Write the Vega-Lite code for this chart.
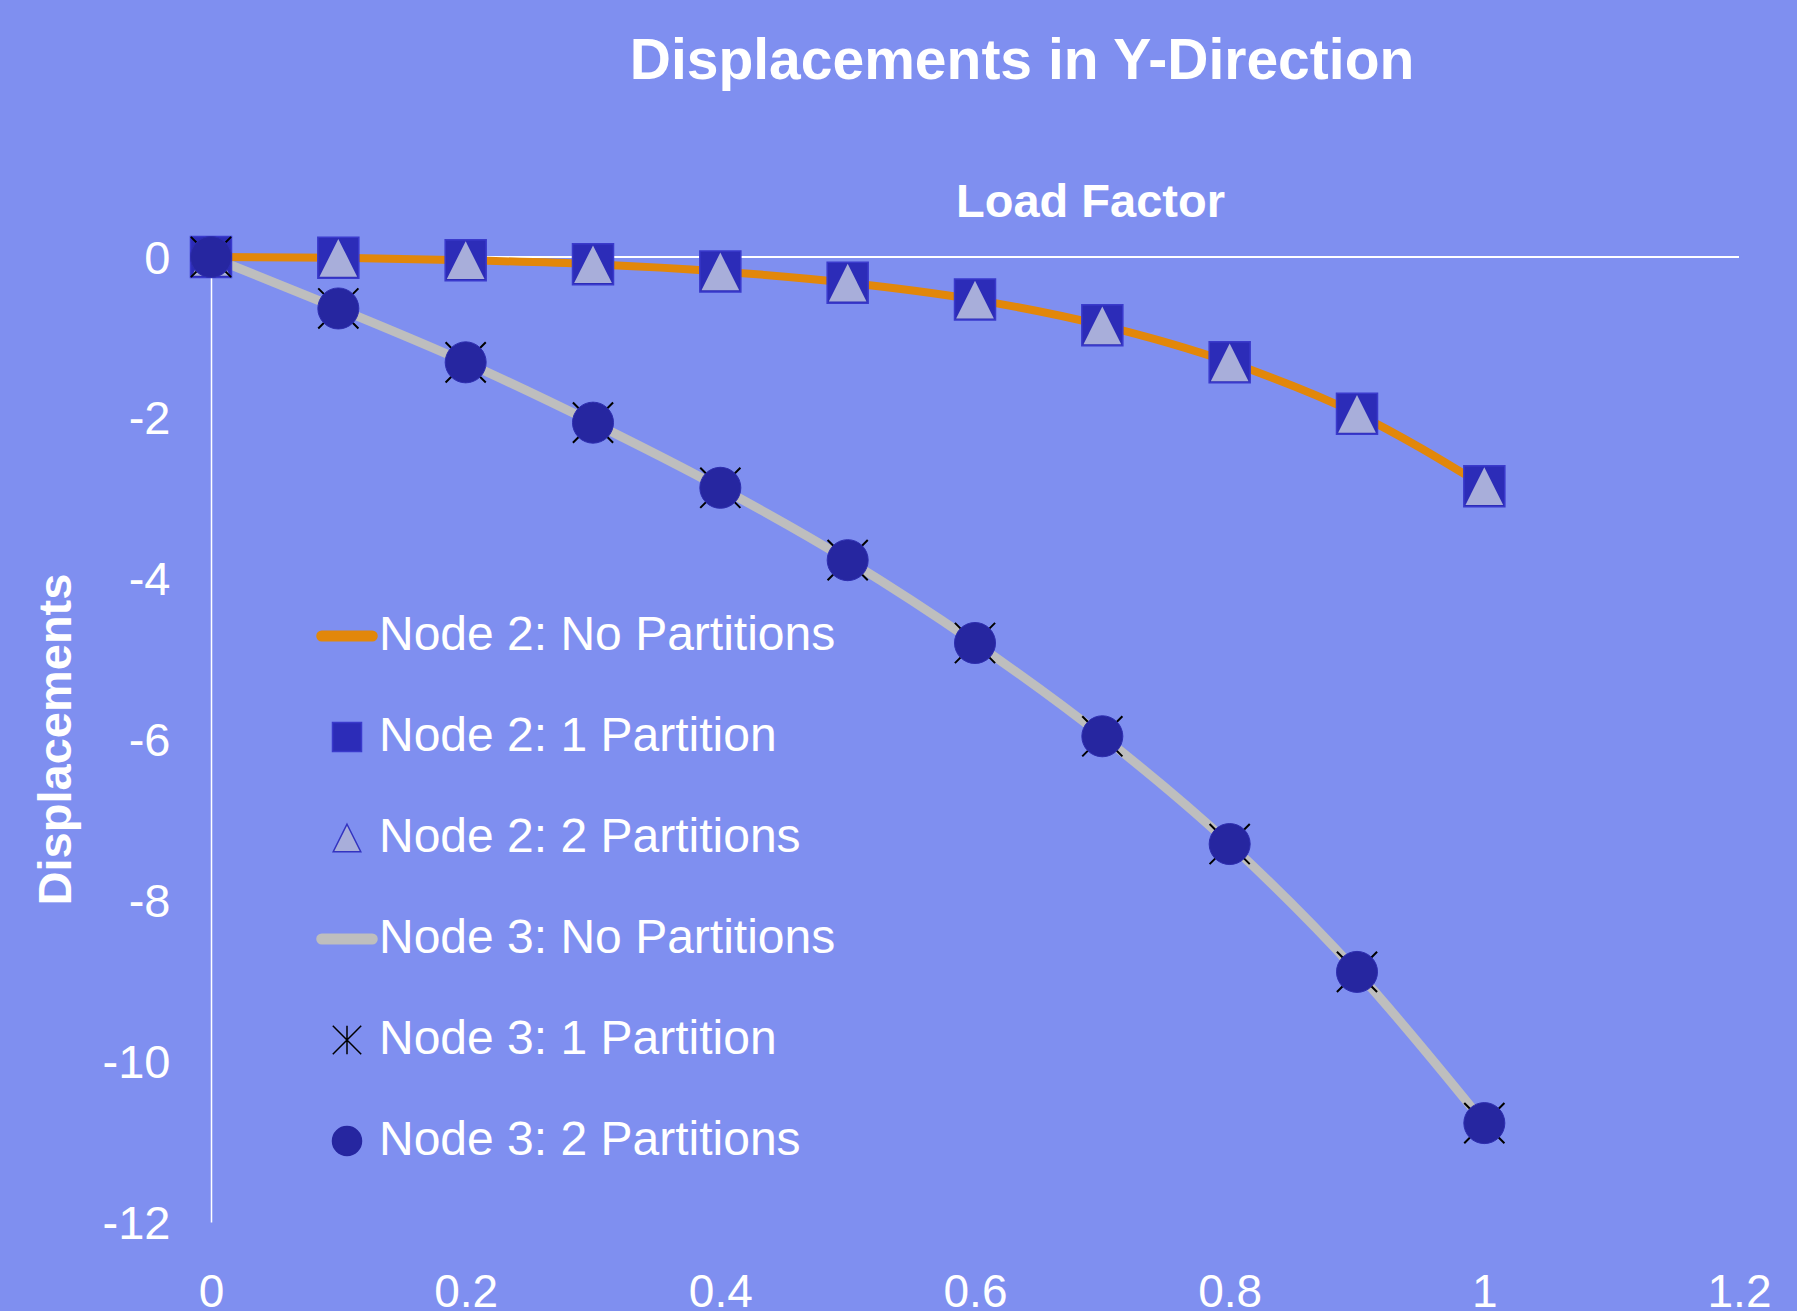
{
  "$schema": "https://vega.github.io/schema/vega-lite/v6.json",
  "autosize": "none",
  "width": 1528,
  "height": 965,
  "padding": {"left": 211, "top": 257, "right": 58, "bottom": 89},
  "background": "#7F8FF0",
  "config": {
    "font": "Liberation Sans",
    "view": {"stroke": null},
    "title": {"fontSize": 57, "fontWeight": "bold", "color": "white", "anchor": "middle", "dx": 47, "offset": 87, "baseline": "alphabetic"}
  },
  "title": "Displacements in Y-Direction",
  "data": {
    "values": [
      {"series": "Node 2: No Partitions", "lf": 0, "disp": 0},
      {"series": "Node 2: No Partitions", "lf": 0.1, "disp": -0.01},
      {"series": "Node 2: No Partitions", "lf": 0.2, "disp": -0.04},
      {"series": "Node 2: No Partitions", "lf": 0.3, "disp": -0.09},
      {"series": "Node 2: No Partitions", "lf": 0.4, "disp": -0.18},
      {"series": "Node 2: No Partitions", "lf": 0.5, "disp": -0.32},
      {"series": "Node 2: No Partitions", "lf": 0.6, "disp": -0.53},
      {"series": "Node 2: No Partitions", "lf": 0.7, "disp": -0.85},
      {"series": "Node 2: No Partitions", "lf": 0.8, "disp": -1.31},
      {"series": "Node 2: No Partitions", "lf": 0.9, "disp": -1.95},
      {"series": "Node 2: No Partitions", "lf": 1.0, "disp": -2.85},
      {"series": "Node 3: No Partitions", "lf": 0, "disp": 0},
      {"series": "Node 3: No Partitions", "lf": 0.1, "disp": -0.64},
      {"series": "Node 3: No Partitions", "lf": 0.2, "disp": -1.31},
      {"series": "Node 3: No Partitions", "lf": 0.3, "disp": -2.06},
      {"series": "Node 3: No Partitions", "lf": 0.4, "disp": -2.87},
      {"series": "Node 3: No Partitions", "lf": 0.5, "disp": -3.77},
      {"series": "Node 3: No Partitions", "lf": 0.6, "disp": -4.8},
      {"series": "Node 3: No Partitions", "lf": 0.7, "disp": -5.96},
      {"series": "Node 3: No Partitions", "lf": 0.8, "disp": -7.3},
      {"series": "Node 3: No Partitions", "lf": 0.9, "disp": -8.89},
      {"series": "Node 3: No Partitions", "lf": 1.0, "disp": -10.77},
      {"series": "Node 2: 1 Partition", "lf": 0, "disp": 0},
      {"series": "Node 2: 1 Partition", "lf": 0.1, "disp": -0.01},
      {"series": "Node 2: 1 Partition", "lf": 0.2, "disp": -0.04},
      {"series": "Node 2: 1 Partition", "lf": 0.3, "disp": -0.09},
      {"series": "Node 2: 1 Partition", "lf": 0.4, "disp": -0.18},
      {"series": "Node 2: 1 Partition", "lf": 0.5, "disp": -0.32},
      {"series": "Node 2: 1 Partition", "lf": 0.6, "disp": -0.53},
      {"series": "Node 2: 1 Partition", "lf": 0.7, "disp": -0.85},
      {"series": "Node 2: 1 Partition", "lf": 0.8, "disp": -1.31},
      {"series": "Node 2: 1 Partition", "lf": 0.9, "disp": -1.95},
      {"series": "Node 2: 1 Partition", "lf": 1.0, "disp": -2.85},
      {"series": "Node 2: 2 Partitions", "lf": 0, "disp": 0},
      {"series": "Node 2: 2 Partitions", "lf": 0.1, "disp": -0.01},
      {"series": "Node 2: 2 Partitions", "lf": 0.2, "disp": -0.04},
      {"series": "Node 2: 2 Partitions", "lf": 0.3, "disp": -0.09},
      {"series": "Node 2: 2 Partitions", "lf": 0.4, "disp": -0.18},
      {"series": "Node 2: 2 Partitions", "lf": 0.5, "disp": -0.32},
      {"series": "Node 2: 2 Partitions", "lf": 0.6, "disp": -0.53},
      {"series": "Node 2: 2 Partitions", "lf": 0.7, "disp": -0.85},
      {"series": "Node 2: 2 Partitions", "lf": 0.8, "disp": -1.31},
      {"series": "Node 2: 2 Partitions", "lf": 0.9, "disp": -1.95},
      {"series": "Node 2: 2 Partitions", "lf": 1.0, "disp": -2.85},
      {"series": "Node 3: 1 Partition", "lf": 0, "disp": 0},
      {"series": "Node 3: 1 Partition", "lf": 0.1, "disp": -0.64},
      {"series": "Node 3: 1 Partition", "lf": 0.2, "disp": -1.31},
      {"series": "Node 3: 1 Partition", "lf": 0.3, "disp": -2.06},
      {"series": "Node 3: 1 Partition", "lf": 0.4, "disp": -2.87},
      {"series": "Node 3: 1 Partition", "lf": 0.5, "disp": -3.77},
      {"series": "Node 3: 1 Partition", "lf": 0.6, "disp": -4.8},
      {"series": "Node 3: 1 Partition", "lf": 0.7, "disp": -5.96},
      {"series": "Node 3: 1 Partition", "lf": 0.8, "disp": -7.3},
      {"series": "Node 3: 1 Partition", "lf": 0.9, "disp": -8.89},
      {"series": "Node 3: 1 Partition", "lf": 1.0, "disp": -10.77},
      {"series": "Node 3: 2 Partitions", "lf": 0, "disp": 0},
      {"series": "Node 3: 2 Partitions", "lf": 0.1, "disp": -0.64},
      {"series": "Node 3: 2 Partitions", "lf": 0.2, "disp": -1.31},
      {"series": "Node 3: 2 Partitions", "lf": 0.3, "disp": -2.06},
      {"series": "Node 3: 2 Partitions", "lf": 0.4, "disp": -2.87},
      {"series": "Node 3: 2 Partitions", "lf": 0.5, "disp": -3.77},
      {"series": "Node 3: 2 Partitions", "lf": 0.6, "disp": -4.8},
      {"series": "Node 3: 2 Partitions", "lf": 0.7, "disp": -5.96},
      {"series": "Node 3: 2 Partitions", "lf": 0.8, "disp": -7.3},
      {"series": "Node 3: 2 Partitions", "lf": 0.9, "disp": -8.89},
      {"series": "Node 3: 2 Partitions", "lf": 1.0, "disp": -10.77}
    ]
  },
  "encoding": {
    "x": {
      "field": "lf", "type": "quantitative",
      "scale": {"domain": [0, 1.2], "nice": false, "zero": false},
      "axis": {
        "values": [0, 0.2, 0.4, 0.6, 0.8, 1, 1.2],
        "labelExpr": "'' + datum.value",
        "labelFontSize": 46, "labelColor": "white", "labelBaseline": "alphabetic", "labelPadding": 84,
        "labelFlush": false, "labelOverlap": false,
        "domain": false, "ticks": false, "tickSize": 0, "grid": false,
        "title": "Load Factor", "titleFontSize": 47, "titleFontWeight": "bold", "titleColor": "white",
        "titleX": 879, "titleY": -1006, "titleAlign": "center", "titleBaseline": "alphabetic"
      }
    },
    "y": {
      "field": "disp", "type": "quantitative",
      "scale": {"domain": [-12, 0], "nice": false, "zero": false},
      "axis": {
        "values": [-12, -10, -8, -6, -4, -2, 0],
        "labelExpr": "'' + datum.value",
        "labelFontSize": 47, "labelColor": "white", "labelPadding": 41, "labelOffset": 2,
        "labelFlush": false, "labelOverlap": false,
        "domain": true, "domainColor": "white", "domainWidth": 1.5,
        "ticks": false, "tickSize": 0, "grid": false,
        "title": "Displacements", "titleFontSize": 47, "titleFontWeight": "bold", "titleColor": "white",
        "titleX": -141, "titleY": 482, "titleAngle": -90, "titleAlign": "center", "titleBaseline": "alphabetic"
      }
    }
  },
  "layer": [
    {
      "mark": {"type": "point", "filled": true, "opacity": 0, "size": 841, "strokeWidth": 1.5},
      "encoding": {
        "shape": {
          "field": "series", "type": "nominal",
          "scale": {
            "domain": ["Node 2: No Partitions", "Node 2: 1 Partition", "Node 2: 2 Partitions", "Node 3: No Partitions", "Node 3: 1 Partition", "Node 3: 2 Partitions"],
            "range": [
              "M-1.74,-0.33L1.74,-0.33A0.33,0.33,0,0,1,1.74,0.33L-1.74,0.33A0.33,0.33,0,0,1,-1.74,-0.33Z",
              "square",
              "M0,-0.95L0.95,0.95L-0.95,0.95Z",
              "M-1.74,-0.33L1.74,-0.33A0.33,0.33,0,0,1,1.74,0.33L-1.74,0.33A0.33,0.33,0,0,1,-1.74,-0.33Z",
              "M-0.98,-0.98L0.98,0.98M0.98,-0.98L-0.98,0.98M0,-0.98L0,0.98",
              "circle"
            ]
          },
          "legend": {
            "orient": "none", "legendX": 112, "legendY": 355, "title": null,
            "padding": 0, "rowPadding": 53, "labelOffset": 8,
            "labelFontSize": 48, "labelColor": "white", "labelFont": "Liberation Sans", "labelLimit": 1000,
            "symbolOpacity": 1, "symbolStrokeWidth": 1.5, "symbolSize": 841
          }
        },
        "fill": {
          "field": "series", "type": "nominal",
          "scale": {
            "domain": ["Node 2: No Partitions", "Node 2: 1 Partition", "Node 2: 2 Partitions", "Node 3: No Partitions", "Node 3: 1 Partition", "Node 3: 2 Partitions"],
            "range": ["#E2870A", "#2C2CB8", "#A8AEDA", "#BEBEBE", "transparent", "#2626A0"]
          },
          "legend": null
        },
        "stroke": {
          "field": "series", "type": "nominal",
          "scale": {
            "domain": ["Node 2: No Partitions", "Node 2: 1 Partition", "Node 2: 2 Partitions", "Node 3: No Partitions", "Node 3: 1 Partition", "Node 3: 2 Partitions"],
            "range": ["#E2870A", "#3A3ACC", "#3333C0", "#BEBEBE", "#000000", "#2626A0"]
          },
          "legend": null
        }
      }
    },
    {
      "mark": {"type": "rule", "color": "white", "strokeWidth": 1.5},
      "encoding": {"y": {"datum": 0}, "x": {"datum": 0}, "x2": {"datum": 1.2}}
    },
    {
      "transform": [{"filter": "datum.series === 'Node 3: No Partitions'"}],
      "mark": {"type": "line", "interpolate": "monotone", "strokeWidth": 9, "strokeCap": "butt", "color": "#BEBEBE"},
      "encoding": {}
    },
    {
      "transform": [{"filter": "datum.series === 'Node 2: No Partitions'"}],
      "mark": {"type": "line", "interpolate": "monotone", "strokeWidth": 8, "strokeCap": "butt", "color": "#E2870A"},
      "encoding": {}
    },
    {
      "transform": [{"filter": "datum.series === 'Node 2: 1 Partition'"}],
      "mark": {"type": "point", "shape": "square", "filled": true, "opacity": 1, "size": 1681, "fill": "#2C2CB8", "stroke": "#3A3ACC", "strokeWidth": 1.5},
      "encoding": {}
    },
    {
      "transform": [{"filter": "datum.series === 'Node 2: 2 Partitions'"}],
      "mark": {"type": "point", "shape": "M0,-0.92L0.92,0.92L-0.92,0.92Z", "filled": true, "opacity": 1, "size": 1681, "fill": "#A8AEDA", "strokeWidth": 0},
      "encoding": {}
    },
    {
      "transform": [{"filter": "datum.series === 'Node 3: 1 Partition'"}],
      "mark": {"type": "point", "shape": "M-0.98,-0.98L0.98,0.98M0.98,-0.98L-0.98,0.98M0,-0.98L0,0.98", "filled": false, "opacity": 1, "size": 1681, "stroke": "#000000", "strokeWidth": 2},
      "encoding": {}
    },
    {
      "transform": [{"filter": "datum.series === 'Node 3: 2 Partitions'"}],
      "mark": {"type": "point", "shape": "circle", "filled": true, "opacity": 1, "size": 1681, "fill": "#2626A0", "stroke": "#2E2EB0", "strokeWidth": 1},
      "encoding": {}
    }
  ]
}
